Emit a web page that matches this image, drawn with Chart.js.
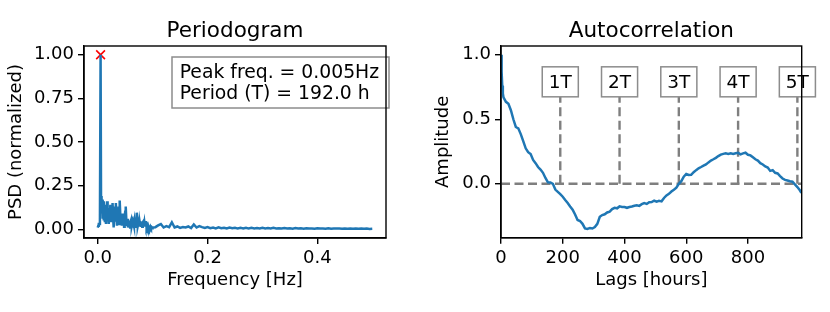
<!DOCTYPE html>
<html>
<head>
<meta charset="utf-8">
<script src="https://cdn.jsdelivr.net/npm/chart.js@4"></script>
<style>
  html, body { margin: 0; padding: 0; background: #fff; }
  #wrap { position: relative; width: 830px; height: 312px; }
  canvas { position: absolute; top: 0; }
</style>
</head>
<body>
<div id="wrap">
  <canvas id="psd" width="415" height="312" style="left:0"></canvas>
  <canvas id="acf" width="415" height="312" style="left:415px"></canvas>
</div>
<script>
// periodogram
const psdFreq = [
  0.000, 0.001, 0.002, 0.003, 0.004, 0.0052, 0.006, 0.007, 0.008, 0.009,
  0.010, 0.011, 0.012, 0.013, 0.014, 0.015, 0.016, 0.017, 0.018, 0.019,
  0.020, 0.021, 0.022, 0.023, 0.024, 0.025, 0.026, 0.027, 0.028, 0.029,
  0.030, 0.031, 0.032, 0.033, 0.034, 0.035, 0.036, 0.037, 0.038, 0.039,
  0.040, 0.041, 0.042, 0.043, 0.044, 0.045, 0.046, 0.047, 0.048, 0.049,
  0.050, 0.051, 0.052, 0.053, 0.054, 0.055, 0.056, 0.057, 0.058, 0.059,
  0.060, 0.061, 0.062, 0.063, 0.064, 0.065, 0.066, 0.067, 0.068, 0.069,
  0.070, 0.071, 0.072, 0.073, 0.074, 0.075, 0.076, 0.077, 0.078, 0.079,
  0.080, 0.081, 0.082, 0.083, 0.084, 0.085, 0.086, 0.087, 0.088, 0.089,
  0.090, 0.091, 0.092, 0.093, 0.094, 0.095, 0.096, 0.097, 0.098, 0.099,
  0.100, 0.105, 0.110, 0.115, 0.120, 0.125, 0.130, 0.135, 0.140, 0.145,
  0.150, 0.155, 0.160, 0.165, 0.170, 0.175, 0.180, 0.185, 0.190, 0.195,
  0.200, 0.205, 0.210, 0.215, 0.220, 0.225, 0.230, 0.235, 0.240, 0.245,
  0.250, 0.255, 0.260, 0.265, 0.270, 0.275, 0.280, 0.285, 0.290, 0.295,
  0.300, 0.305, 0.310, 0.315, 0.320, 0.325, 0.330, 0.335, 0.340, 0.345,
  0.350, 0.355, 0.360, 0.365, 0.370, 0.375, 0.380, 0.385, 0.390, 0.395,
  0.400, 0.405, 0.410, 0.415, 0.420, 0.425, 0.430, 0.435, 0.440, 0.445,
  0.450, 0.455, 0.460, 0.465, 0.470, 0.475, 0.480, 0.485, 0.490, 0.495,
  0.500
];
const psdValue = [
  0.010, 0.020, 0.030, 0.030, 0.050, 1.000, 0.190, 0.090, 0.170, 0.060,
  0.160, 0.050, 0.140, 0.040, 0.130, 0.030, 0.110, 0.160, 0.050, 0.100,
  0.030, 0.120, 0.070, 0.140, 0.040, 0.100, 0.060, 0.150, 0.070, 0.010,
  0.090, 0.130, 0.050, 0.150, 0.080, 0.020, 0.100, 0.060, 0.130, 0.030,
  0.165, 0.090, 0.030, 0.070, 0.020, 0.090, 0.040, 0.080, 0.015, 0.070,
  0.100, 0.130, 0.060, 0.020, 0.060, 0.010, 0.050, 0.020, 0.040, 0.010,
  0.045, 0.055, 0.020, 0.035, 0.010, 0.035, 0.020, 0.045, 0.015, 0.035,
  0.060, 0.095, 0.040, 0.020, 0.035, 0.015, 0.050, 0.030, 0.045, 0.020,
  0.045, 0.015, 0.040, 0.045, 0.020, 0.040, 0.015, 0.040, 0.040, 0.010,
  0.020, 0.008, 0.020, 0.010, 0.012, 0.006, 0.015, 0.008, 0.012, 0.006,
  0.010, 0.012, 0.022, 0.030, 0.010, 0.018, 0.012, 0.040, 0.010, 0.016,
  0.008, 0.013, 0.010, 0.016, 0.007, 0.028, 0.010, 0.018, 0.012, 0.007,
  0.012, 0.006, 0.010, 0.005, 0.011, 0.006, 0.009, 0.005, 0.010, 0.006,
  0.009, 0.004, 0.008, 0.005, 0.009, 0.004, 0.008, 0.005, 0.007, 0.004,
  0.008, 0.005, 0.007, 0.004, 0.008, 0.005, 0.006, 0.004, 0.007, 0.004,
  0.006, 0.003, 0.007, 0.004, 0.006, 0.003, 0.006, 0.004, 0.005, 0.003,
  0.006, 0.004, 0.005, 0.003, 0.006, 0.003, 0.005, 0.004, 0.005, 0.003,
  0.005, 0.003, 0.004, 0.003, 0.005, 0.003, 0.004, 0.003, 0.004, 0.002,
  0.003
];
const peakFreq = [0.0052];
const peakValue = [1.0];
const psdXTicks = [0.0, 0.2, 0.4];
const psdYTicks = [0.00, 0.25, 0.50, 0.75, 1.00];
const infoLines = ['Peak freq. = 0.005Hz', 'Period (T) = 192.0 h'];

// autocorrelation
const acfLag = [
  0, 2, 4, 6, 8, 16, 24, 32, 40, 48, 56, 64, 72, 80, 88, 96, 104, 112, 120, 128,
  136, 144, 152, 160, 168, 176, 184, 192, 200, 208, 216, 224, 232, 240, 248, 256,
  264, 272, 280, 288, 296, 304, 312, 320, 328, 336, 344, 352, 360, 368, 376, 384,
  392, 400, 408, 416, 424, 432, 440, 448, 456, 464, 472, 480, 488, 496, 504, 512,
  520, 528, 536, 544, 552, 560, 568, 576, 584, 592, 600, 608, 616, 624, 632, 640,
  648, 656, 664, 672, 680, 688, 696, 704, 712, 720, 728, 736, 744, 752, 760, 768,
  776, 784, 792, 800, 808, 816, 824, 832, 840, 848, 856, 864, 872, 880, 888, 896,
  904, 912, 920, 928, 936, 944, 952, 960, 968, 973
];
const acfValue = [
  1.00, 0.87, 0.76, 0.70, 0.67, 0.635, 0.62, 0.57, 0.50, 0.44, 0.43, 0.385, 0.33, 0.275, 0.245, 0.23, 0.185, 0.16, 0.13, 0.11,
  0.085, 0.045, 0.012, 0.01, 0.0, -0.045, -0.062, -0.08, -0.10, -0.125, -0.148, -0.175, -0.20, -0.238, -0.28, -0.288,
  -0.31, -0.345, -0.35, -0.342, -0.346, -0.335, -0.31, -0.255, -0.242, -0.236, -0.222, -0.215, -0.196, -0.186, -0.19, -0.175,
  -0.179, -0.18, -0.186, -0.18, -0.176, -0.17, -0.166, -0.171, -0.158, -0.15, -0.156, -0.142, -0.141, -0.13, -0.139, -0.132,
  -0.136, -0.11, -0.09, -0.078, -0.06, -0.046, -0.03, 0.0, 0.02, 0.055, 0.076, 0.068, 0.07, 0.09, 0.106, 0.12,
  0.13, 0.141, 0.15, 0.166, 0.18, 0.19, 0.201, 0.215, 0.226, 0.232, 0.236, 0.232, 0.236, 0.231, 0.236, 0.24,
  0.228, 0.236, 0.241, 0.225, 0.22, 0.205, 0.19, 0.18, 0.16, 0.15, 0.135, 0.126, 0.10, 0.106, 0.085, 0.08,
  0.06, 0.041, 0.03, 0.026, 0.02, 0.016, -0.005, -0.025, -0.05, -0.07
];
const acfXTicks = [0, 200, 400, 600, 800];
const acfYTicks = [0.0, 0.5, 1.0];
const periodLags = [192, 384, 576, 768, 960];
const periodLabels = ['1T', '2T', '3T', '4T', '5T'];
const periodLabelY = 0.79;

const FONT = '"DejaVu Sans", "Liberation Sans", sans-serif';
const BLUE = '#1f77b4';
const GREY = '#7f7f7f';
Chart.defaults.color = '#000';
Chart.defaults.font.family = FONT;

const pts = (xs, ys) => xs.map((x, i) => ({ x: x, y: ys[i] }));

// axes box + title above the plot area
const frame = {
  id: 'frame',
  afterDraw(chart, args, opts) {
    const { ctx, chartArea: a } = chart;
    ctx.save();
    ctx.strokeStyle = '#000';
    ctx.lineWidth = 1.4;
    ctx.strokeRect(a.left, a.top, a.right - a.left, a.bottom - a.top);
    ctx.font = '21.5px ' + FONT;
    ctx.fillStyle = '#000';
    ctx.textAlign = 'center';
    ctx.textBaseline = 'alphabetic';
    ctx.fillText(opts.text, (a.left + a.right) / 2, a.top - 8.7);
    ctx.restore();
  }
};

const infoBox = {
  id: 'infoBox',
  afterDatasetsDraw(chart) {
    const { ctx, chartArea: a } = chart;
    const left = a.left + 88, top = a.top + 11, w = 217, h = 51;
    ctx.save();
    ctx.fillStyle = '#fff';
    ctx.fillRect(left, top, w, h);
    ctx.strokeStyle = '#8c8c8c';
    ctx.lineWidth = 1.5;
    ctx.strokeRect(left, top, w, h);
    ctx.font = '18.8px ' + FONT;
    ctx.fillStyle = '#000';
    ctx.textAlign = 'left';
    ctx.textBaseline = 'alphabetic';
    infoLines.forEach((t, i) => ctx.fillText(t, left + 7.7, top + 21 + i * 21));
    ctx.restore();
  }
};

const periodBoxes = {
  id: 'periodBoxes',
  afterDatasetsDraw(chart) {
    const { ctx, scales: { x, y } } = chart;
    ctx.save();
    ctx.font = '18.5px ' + FONT;
    ctx.textAlign = 'center';
    ctx.textBaseline = 'middle';
    periodLags.forEach((lag, i) => {
      const px = x.getPixelForValue(lag), py = y.getPixelForValue(periodLabelY);
      const w = ctx.measureText(periodLabels[i]).width + 13, h = 30;
      ctx.fillStyle = '#fff';
      ctx.fillRect(px - w / 2, py - h / 2, w, h);
      ctx.strokeStyle = '#8c8c8c';
      ctx.lineWidth = 1.5;
      ctx.strokeRect(px - w / 2, py - h / 2, w, h);
      ctx.fillStyle = '#000';
      ctx.fillText(periodLabels[i], px, py + 1);
    });
    ctx.restore();
  }
};

function axis(min, max, ticks, digits, size, title, titlePad) {
  return {
    type: 'linear',
    min: min,
    max: max,
    afterBuildTicks: s => { s.ticks = ticks.map(v => ({ value: v })); },
    afterFit: s => { if (s.isHorizontal()) s.height = size; else s.width = size; },
    grid: { drawOnChartArea: false, tickLength: 6, lineWidth: 1.4, color: '#000' },
    border: { color: '#000', width: 1.4 },
    ticks: {
      font: { size: 18 }, color: '#000', padding: 4, maxRotation: 0, autoSkip: false,
      callback: v => digits === null ? String(v) : v.toFixed(digits)
    },
    title: { display: true, text: title, font: { size: 18 }, color: '#000', padding: titlePad }
  };
}

const common = {
  responsive: false,
  animation: false,
  events: [],
  plugins: { legend: { display: false }, tooltip: { enabled: false } }
};

new Chart(document.getElementById('psd'), {
  type: 'scatter',
  data: {
    datasets: [
      { data: pts(psdFreq, psdValue), showLine: true, borderColor: BLUE, borderWidth: 2.5, pointRadius: 0, tension: 0 },
      { data: pts(peakFreq, peakValue), pointStyle: 'crossRot', pointRadius: 6.2, borderColor: '#ff0000', borderWidth: 1.6 }
    ]
  },
  options: Object.assign({}, common, {
    layout: { padding: { left: 0, right: 29, top: 46, bottom: 0 } },
    scales: {
      x: axis(-0.025, 0.525, psdXTicks, 1, 74, 'Frequency [Hz]', { top: 0, bottom: 21 }),
      y: axis(-0.05, 1.05, psdYTicks, 2, 84, 'PSD (normalized)', { top: 6, bottom: 0 })
    },
    plugins: Object.assign({}, common.plugins, { frame: { text: 'Periodogram' } })
  }),
  plugins: [frame, infoBox]
});

const dashed = { showLine: true, borderColor: GREY, borderWidth: 2.4, borderDash: [9, 4.5], pointRadius: 0, tension: 0 };
const vlines = periodLags.map(lag => Object.assign({}, dashed, { data: [{ x: lag, y: 0 }, { x: lag, y: periodLabelY }] }));

new Chart(document.getElementById('acf'), {
  type: 'scatter',
  data: {
    datasets: [
      { data: pts(acfLag, acfValue), showLine: true, borderColor: BLUE, borderWidth: 2.5, pointRadius: 0, tension: 0 },
      Object.assign({}, dashed, { data: [{ x: 0, y: 0 }, { x: 974, y: 0 }] })
    ].concat(vlines)
  },
  options: Object.assign({}, common, {
    layout: { padding: { left: 0, right: 28.3, top: 46, bottom: 0 } },
    scales: {
      x: axis(0, 974, acfXTicks, null, 74.3, 'Lags [hours]', { top: 0, bottom: 21 }),
      y: axis(-0.4175, 1.0675, acfYTicks, 1, 86, 'Amplitude', { top: 18, bottom: 0 })
    },
    plugins: Object.assign({}, common.plugins, { frame: { text: 'Autocorrelation' } })
  }),
  plugins: [frame, periodBoxes]
});
</script>
</body>
</html>
